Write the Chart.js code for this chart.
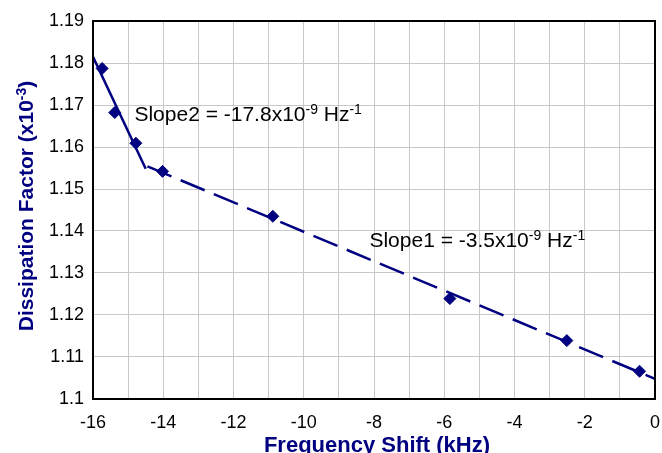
<!DOCTYPE html>
<html>
<head>
<meta charset="utf-8">
<script src="https://cdn.jsdelivr.net/npm/chart.js@4/dist/chart.umd.min.js"></script>
<style>
  html, body { margin: 0; padding: 0; background: #fff; }
  #wrap { width: 662px; height: 453px; }
</style>
</head>
<body>
<div id="wrap"><canvas id="c" width="662" height="453"></canvas></div>
<script>
// Measured dissipation factor vs. frequency shift
const shiftKHz    = [-15.74, -15.38, -14.78, -14.02, -10.88, -5.84, -2.51, -0.44];
const dissipation = [1.1787, 1.1682, 1.1609, 1.1542, 1.1435, 1.1239, 1.1139, 1.1066];

// Linear fits: steep region (Slope2) and shallow region (Slope1)
const fit2Shift = [-16, -14.5];
const fit2Diss  = [1.1815, 1.1548];
const fit1Shift = [-14.45, 0];
const fit1Diss  = [1.1554, 1.1048];

// Axis ranges and tick steps
const xRange = [-16, 0];
const yRange = [1.10, 1.19];
const xLabelEvery = 2;

const NAVY = '#000080';
const FONT = '"Liberation Sans", Arial, Helvetica, sans-serif';

const pts = (xs, ys) => xs.map((x, i) => ({ x, y: ys[i] }));

// Draws a run of text pieces, some of them superscripts: [[text, isSup], ...]
function drawRich(ctx, parts, x, y, size, supSize, rise, bold, align) {
  const w = bold ? 'bold ' : '';
  const main = w + size + 'px ' + FONT;
  const sup = w + supSize + 'px ' + FONT;
  let total = 0;
  parts.forEach(([t, s]) => { ctx.font = s ? sup : main; total += ctx.measureText(t).width; });
  let cx = align === 'center' ? x - total / 2 : x;
  ctx.textAlign = 'left';
  ctx.textBaseline = 'alphabetic';
  parts.forEach(([t, s]) => {
    ctx.font = s ? sup : main;
    ctx.fillText(t, cx, s ? y - rise : y);
    cx += ctx.measureText(t).width;
  });
}

const decorations = {
  id: 'decorations',
  afterDraw(chart) {
    const { ctx, chartArea: a, scales } = chart;
    ctx.save();
    // plot frame
    ctx.strokeStyle = '#000';
    ctx.lineWidth = 2;
    ctx.strokeRect(a.left, a.top, a.right - a.left, a.bottom - a.top);

    // slope annotations
    ctx.fillStyle = '#000';
    drawRich(ctx, [['Slope2 = -17.8x10', false], ['-9', true], [' Hz', false], ['-1', true]],
      scales.x.getPixelForValue(-14.82), scales.y.getPixelForValue(1.1661), 21, 14, 7, false, 'left');
    drawRich(ctx, [['Slope1 = -3.5x10', false], ['-9', true], [' Hz', false], ['-1', true]],
      scales.x.getPixelForValue(-8.13), scales.y.getPixelForValue(1.1363), 21, 14, 7, false, 'left');

    // axis titles
    ctx.fillStyle = NAVY;
    drawRich(ctx, [['Frequency Shift (kHz)', false]], (a.left + a.right) / 2 + 3, 452, 22, 15, 7, true, 'center');
    ctx.translate(33, 206);
    ctx.rotate(-Math.PI / 2);
    drawRich(ctx, [['Dissipation Factor (x10', false], ['-3', true], [')', false]], 0, 0, 21, 14, 7, true, 'center');
    ctx.restore();
  }
};

new Chart(document.getElementById('c'), {
  type: 'scatter',
  data: {
    datasets: [
      {
        label: 'Slope2 fit',
        data: pts(fit2Shift, fit2Diss),
        showLine: true, borderColor: NAVY, borderWidth: 2.5,
        pointRadius: 0, pointHoverRadius: 0
      },
      {
        label: 'Slope1 fit',
        data: pts(fit1Shift, fit1Diss),
        showLine: true, borderColor: NAVY, borderWidth: 2.5, borderDash: [26, 10],
        pointRadius: 0, pointHoverRadius: 0
      },
      {
        label: 'Dissipation factor',
        data: pts(shiftKHz, dissipation),
        pointStyle: 'rectRot', pointRadius: 6,
        backgroundColor: NAVY, borderColor: NAVY, borderWidth: 1
      }
    ]
  },
  options: {
    responsive: false,
    animation: false,
    layout: { padding: { left: 0, right: 6, top: 21, bottom: 0 } },
    plugins: { legend: { display: false }, tooltip: { enabled: false } },
    scales: {
      x: {
        min: xRange[0], max: xRange[1],
        afterFit: s => { s.height = 54; s.paddingLeft = 0; s.paddingRight = 0; },
        grid: { color: '#c8c8c8', lineWidth: 1, drawTicks: false },
        border: { display: false },
        ticks: {
          stepSize: 1, autoSkip: false, maxRotation: 0, padding: 13,
          color: '#000', font: { family: FONT, size: 18 },
          callback: v => (Math.round(v) % xLabelEvery === 0 ? String(Math.round(v)) : '')
        }
      },
      y: {
        min: yRange[0], max: yRange[1],
        afterFit: s => { s.width = 93; s.paddingTop = 0; s.paddingBottom = 0; },
        grid: { color: '#c8c8c8', lineWidth: 1, drawTicks: false },
        border: { display: false },
        ticks: {
          stepSize: 0.01, padding: 9,
          color: '#000', font: { family: FONT, size: 18 },
          callback: v => String(Number(v.toFixed(2)))
        }
      }
    }
  },
  plugins: [decorations]
});
</script>
</body>
</html>
